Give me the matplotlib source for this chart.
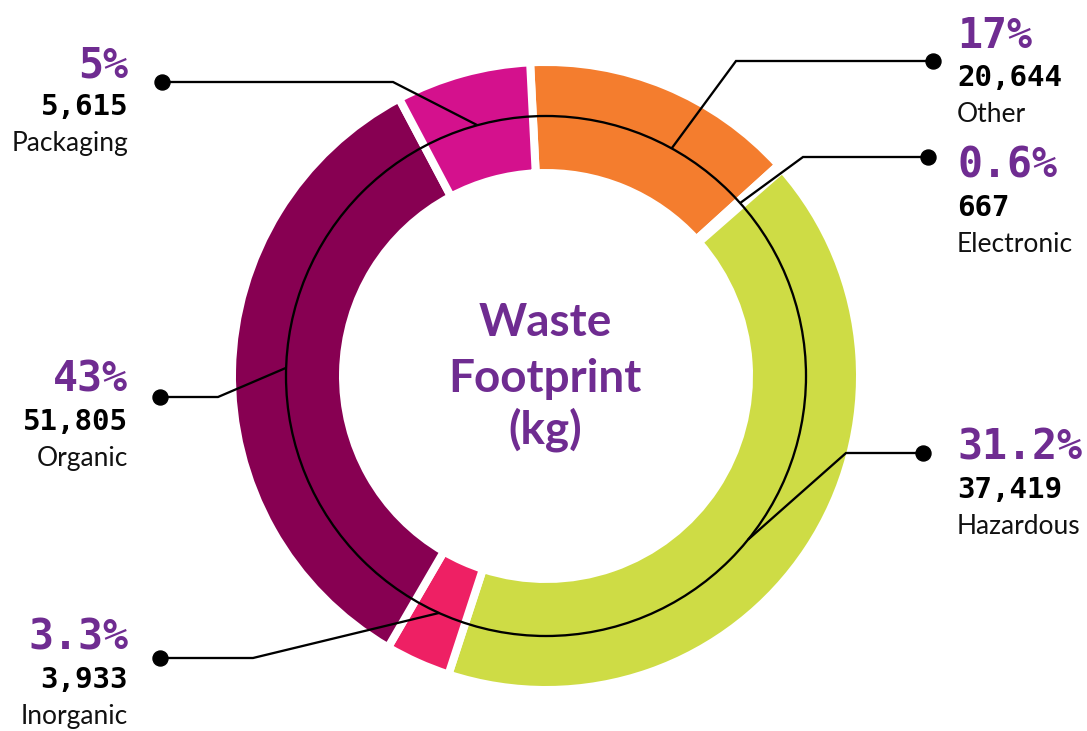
import numpy as np
import matplotlib
matplotlib.use("Agg")
import matplotlib.pyplot as plt
from matplotlib.patches import Circle

# ---------------- data ----------------
categories = ["Other", "Electronic", "Hazardous", "Inorganic", "Organic", "Packaging"]
weights_kg = ["20,644", "667", "37,419", "3,933", "51,805", "5,615"]
pct_labels = ["17%", "0.6%", "31.2%", "3.3%", "43%", "5%"]
# slice sizes as drawn in the picture (degrees of the ring)
slice_degrees = [50.7, 1.0, 149.3, 12.1, 121.9, 25.0]
colors = ["#F47D2E", "#FFFFFF", "#CEDC45", "#EE2064", "#870052", "#D4118D"]

# ---------------- layout ----------------
W, H = 1087, 731
PURPLE = "#6F2C91"
cx, cy_px = 546, 376
R_OUT, R_IN = 310, 207
GAP = 8                 # white gap between slices, px
R_MID = 260
start_angle = 92.9

def Y(ypx):
    return H - ypx

fig = plt.figure(figsize=(W / 100, H / 100), dpi=100)
ax = fig.add_axes([0, 0, 1, 1])

px2pt = 72 / 100
ax.pie(slice_degrees, colors=colors, startangle=start_angle, counterclock=False,
       center=(cx, Y(cy_px)), radius=R_OUT + GAP / 2,
       wedgeprops=dict(width=R_OUT - R_IN + GAP, edgecolor="white",
                       linewidth=GAP * px2pt, joinstyle="miter"))

ax.add_patch(Circle((cx, Y(cy_px)), R_MID, fill=False, ec="black",
                    lw=2.3 * px2pt, zorder=5))

# label layout: side, dot (x,y) px, elbow x px, anchor angle (deg), pct baseline px
label_side = ["right", "right", "right", "left", "left", "left"]
dot_x = [933, 928, 923, 160, 160, 162]
dot_y = [61, 157, 453, 658, 397, 82]
elbow_x = [736, 803, 846, 253, 218, 393]
anchor_deg = [61.1, 41.7, -39.0, 245.7, 178.2, 105.3]
pct_base = [48, 178, 460, 650, 392, 77]

for i in range(len(categories)):
    a = np.deg2rad(anchor_deg[i])
    axp = cx + R_MID * np.cos(a)
    ayd = Y(cy_px) + R_MID * np.sin(a)
    xs = [dot_x[i], elbow_x[i], axp]
    ys = [Y(dot_y[i]), Y(dot_y[i]), ayd]
    ax.plot(xs, ys, color="black", lw=2.3 * px2pt, zorder=6,
            solid_joinstyle="miter", solid_capstyle="butt")
    ax.plot([dot_x[i]], [Y(dot_y[i])], "o", color="black",
            markersize=15 * px2pt, zorder=7)
    if label_side[i] == "right":
        tx, ha = 957, "left"
    else:
        tx, ha = 128, "right"
    ax.text(tx, Y(pct_base[i]), pct_labels[i], ha=ha, va="baseline",
            color=PURPLE, fontsize=30, fontweight="bold",
            family="DejaVu Sans Mono")
    ax.text(tx, Y(pct_base[i] + 38), weights_kg[i], ha=ha, va="baseline",
            color="black", fontsize=21, fontweight="bold",
            family="DejaVu Sans Mono")
    ax.text(tx, Y(pct_base[i] + 74), categories[i], ha=ha, va="baseline",
            color="#111111", fontsize=19, fontweight=400,
            family="Lato")

title_lines = ["Waste", "Footprint", "(kg)"]
title_base = [336, 392, 443]
for t, b in zip(title_lines, title_base):
    ax.text(545, Y(b), t, ha="center", va="baseline", color=PURPLE,
            fontsize=33, fontweight="bold", family="Lato")

ax.set_xlim(0, W)
ax.set_ylim(0, H)
ax.set_aspect("equal")
ax.axis("off")

fig.savefig("out.png", dpi=100, facecolor="white")
